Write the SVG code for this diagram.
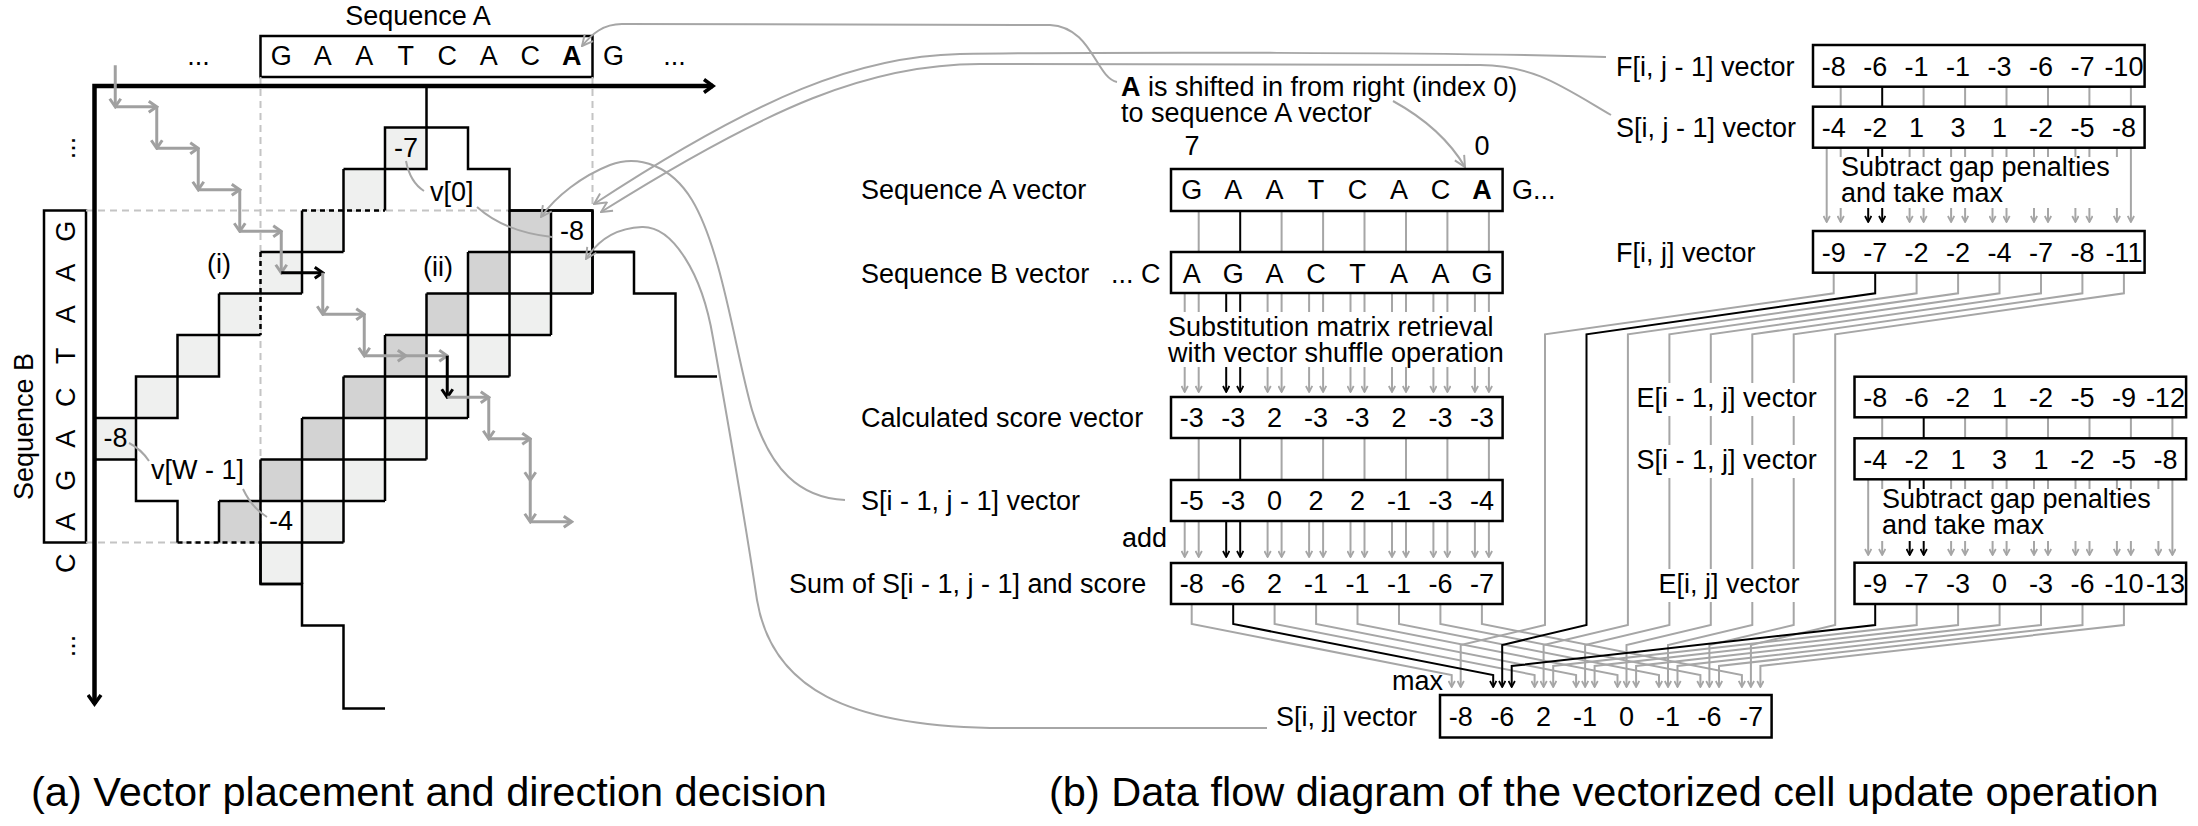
<svg xmlns="http://www.w3.org/2000/svg" width="2198" height="826" viewBox="0 0 2198 826">
<defs>
<marker id="ax" viewBox="0 0 14 16" refX="11" refY="8" markerWidth="14" markerHeight="16" markerUnits="userSpaceOnUse" orient="auto-start-reverse"><path d="M2,1.5 L11,8 L2,14.5" fill="none" stroke="#000" stroke-width="3.5"/></marker>
<marker id="mg" viewBox="0 0 12 14" refX="10" refY="7" markerWidth="12" markerHeight="14" markerUnits="userSpaceOnUse" orient="auto"><path d="M2,1.5 L10,7 L2,12.5" fill="none" stroke="#a0a0a0" stroke-width="3"/></marker>
<marker id="mk" viewBox="0 0 12 14" refX="10" refY="7" markerWidth="12" markerHeight="14" markerUnits="userSpaceOnUse" orient="auto"><path d="M2,1.5 L10,7 L2,12.5" fill="none" stroke="#000" stroke-width="3"/></marker>
<marker id="sg" viewBox="0 0 8 8" refX="7" refY="4" markerWidth="8" markerHeight="8" markerUnits="userSpaceOnUse" orient="auto"><path d="M1,0.8 L7,4 L1,7.2" fill="none" stroke="#a6a6a6" stroke-width="1.8"/></marker>
<marker id="sk" viewBox="0 0 8 8" refX="7" refY="4" markerWidth="8" markerHeight="8" markerUnits="userSpaceOnUse" orient="auto"><path d="M1,0.8 L7,4 L1,7.2" fill="none" stroke="#000" stroke-width="1.8"/></marker>
<marker id="cg" viewBox="0 0 12 12" refX="11" refY="6" markerWidth="13" markerHeight="13" markerUnits="userSpaceOnUse" orient="auto"><path d="M1,1 L11,6 L1,11" fill="none" stroke="#a6a6a6" stroke-width="1.8"/></marker>
</defs>
<style>
text{font-family:"Liberation Sans",Arial,Helvetica,sans-serif;font-size:27px;fill:#000}
.c{text-anchor:middle}
.e{text-anchor:end}
.cap{font-size:41.5px}
.box{fill:#fff;stroke:#000;stroke-width:2.5}
.g{stroke:#a6a6a6;stroke-width:2;fill:none}
.k{stroke:#000;stroke-width:2;fill:none}
.ga{stroke:#a6a6a6;stroke-width:2;fill:none;marker-end:url(#sg)}
.ka{stroke:#000;stroke-width:2;fill:none;marker-end:url(#sk)}
.dash{stroke:#c4c4c4;stroke-width:2;stroke-dasharray:7 5;fill:none}
.bdash{stroke:#000;stroke-width:2.5;stroke-dasharray:5 4;fill:none}
.lt{fill:#eff0ef}
.dk{fill:#d3d3d3}
.grid{stroke:#000;stroke-width:2.5;fill:none}
.pg{stroke:#a0a0a0;stroke-width:3;fill:none;marker-end:url(#mg)}
.pk{stroke:#000;stroke-width:3;fill:none;marker-end:url(#mk)}
.cv{stroke:#a6a6a6;stroke-width:2;fill:none;marker-end:url(#cg)}
.cvn{stroke:#a6a6a6;stroke-width:2;fill:none}
.halo{fill:#fff}
</style>
<rect width="2198" height="826" fill="#fff"/>

<!-- ===== (a) ===== -->
<g id="seqA">
<text class="c" x="418" y="25">Sequence A</text>
<rect class="box" x="260.5" y="36" width="332" height="41"/>
<text y="65"><tspan class="c" x="198.5">...</tspan><tspan class="c" x="281.25">G</tspan><tspan class="c" x="322.75">A</tspan><tspan class="c" x="364.25">A</tspan><tspan class="c" x="405.75">T</tspan><tspan class="c" x="447.25">C</tspan><tspan class="c" x="488.75">A</tspan><tspan class="c" x="530.25">C</tspan><tspan class="c" x="571.75" font-weight="bold">A</tspan><tspan class="c" x="613.5">G</tspan><tspan class="c" x="674.5">...</tspan></text>
</g>
<g id="seqB">
<text class="c" transform="translate(33,426.5) rotate(-90)">Sequence B</text>
<rect class="box" x="44" y="210.5" width="42" height="332"/>
<text class="c" transform="translate(75,148) rotate(-90)">...</text>
<text class="c" transform="translate(75,231.25) rotate(-90)">G</text>
<text class="c" transform="translate(75,272.75) rotate(-90)">A</text>
<text class="c" transform="translate(75,314.25) rotate(-90)">A</text>
<text class="c" transform="translate(75,355.75) rotate(-90)">T</text>
<text class="c" transform="translate(75,397.25) rotate(-90)">C</text>
<text class="c" transform="translate(75,438.75) rotate(-90)">A</text>
<text class="c" transform="translate(75,480.25) rotate(-90)">G</text>
<text class="c" transform="translate(75,521.75) rotate(-90)">A</text>
<text class="c" transform="translate(75,563.25) rotate(-90)">C</text>
<text class="c" transform="translate(75,646) rotate(-90)">...</text>
</g>
<g id="grid">
<path class="dash" d="M260.5 77V542.5 M592.5 77V210.5 M86 210.5H592.5 M86 542.5H260.5"/>
<g id="cells-light-i" class="lt">
<rect x="385" y="127.5" width="41.5" height="41.5"/><rect x="343.5" y="169" width="41.5" height="41.5"/><rect x="302" y="210.5" width="41.5" height="41.5"/><rect x="260.5" y="252" width="41.5" height="41.5"/><rect x="219" y="293.5" width="41.5" height="41.5"/><rect x="177.5" y="335" width="41.5" height="41.5"/><rect x="136" y="376.5" width="41.5" height="41.5"/><rect x="94.5" y="418" width="41.5" height="41.5"/>
</g>
<g id="cells-dark" class="dk">
<rect x="509.5" y="210.5" width="41.5" height="41.5"/><rect x="468" y="252" width="41.5" height="41.5"/><rect x="426.5" y="293.5" width="41.5" height="41.5"/><rect x="385" y="335" width="41.5" height="41.5"/><rect x="343.5" y="376.5" width="41.5" height="41.5"/><rect x="302" y="418" width="41.5" height="41.5"/><rect x="260.5" y="459.5" width="41.5" height="41.5"/><rect x="219" y="501" width="41.5" height="41.5"/>
</g>
<g id="cells-light-ii" class="lt">
<rect x="551" y="252" width="41.5" height="41.5"/><rect x="509.5" y="293.5" width="41.5" height="41.5"/><rect x="468" y="335" width="41.5" height="41.5"/><rect x="426.5" y="376.5" width="41.5" height="41.5"/><rect x="385" y="418" width="41.5" height="41.5"/><rect x="343.5" y="459.5" width="41.5" height="41.5"/><rect x="302" y="501" width="41.5" height="41.5"/><rect x="260.5" y="542.5" width="41.5" height="41.5"/>
</g>
<path class="grid" d="M385 127.5H426.5V169H385Z M343.5 169H385 M343.5 169V210.5 M385 169V210.5 M302 210.5V252 M343.5 210.5V252 M302 252H343.5 M260.5 252H302 M302 252V293.5 M260.5 293.5H302 M219 293.5H260.5 M219 293.5V335 M219 335H260.5 M177.5 335H219V376.5H177.5Z M136 376.5H177.5V418H136Z M94.5 418H136V459.5H94.5"/>
<path class="grid" d="M426.5 86V127.5 M426.5 127.5H468V169H509.5V210.5H592.5V293.5 M592.5 252H634V293.5H675.5V376.5H717 M136 459.5V501H177.5V542.5 M260.5 542.5V584H302V625.5H343.5V708.5H385"/>
<path class="grid" d="M509.5 210.5H592.5 M468 252H634 M426.5 293.5H592.5 M385 335H551 M343.5 376.5H509.5 M302 418H468 M260.5 459.5H426.5 M219 501H385 M260.5 542.5H343.5 M260.5 584H302 M592.5 210.5V293.5 M551 210.5V335 M509.5 210.5V376.5 M468 252V418 M426.5 293.5V459.5 M385 335V501 M343.5 376.5V542.5 M302 418V584 M260.5 459.5V584 M219 501V542.5"/>
<path class="bdash" d="M302 210.5H385 M260.5 252V335 M177.5 542.5H260.5"/>
</g>
<g id="axes">
<path d="M94.5 704 V86 H713" fill="none" stroke="#000" stroke-width="4.5" marker-start="url(#ax)" marker-end="url(#ax)"/>
</g>
<g id="direction-path">
<line class="pg" x1="115.25" y1="65.25" x2="115.25" y2="106.75"/>
<line class="pg" x1="115.25" y1="106.75" x2="156.75" y2="106.75"/>
<line class="pg" x1="156.75" y1="106.75" x2="156.75" y2="148.25"/>
<line class="pg" x1="156.75" y1="148.25" x2="198.25" y2="148.25"/>
<line class="pg" x1="198.25" y1="148.25" x2="198.25" y2="189.75"/>
<line class="pg" x1="198.25" y1="189.75" x2="239.75" y2="189.75"/>
<line class="pg" x1="239.75" y1="189.75" x2="239.75" y2="231.25"/>
<line class="pg" x1="239.75" y1="231.25" x2="281.25" y2="231.25"/>
<line class="pg" x1="281.25" y1="231.25" x2="281.25" y2="272.75"/>
<line class="pk" x1="281.25" y1="272.75" x2="322.75" y2="272.75"/>
<line class="pg" x1="322.75" y1="272.75" x2="322.75" y2="314.25"/>
<line class="pg" x1="322.75" y1="314.25" x2="364.25" y2="314.25"/>
<line class="pg" x1="364.25" y1="314.25" x2="364.25" y2="355.75"/>
<line class="pg" x1="364.25" y1="355.75" x2="405.75" y2="355.75"/>
<line class="pg" x1="405.75" y1="355.75" x2="447.25" y2="355.75"/>
<line class="pk" x1="447.25" y1="355.75" x2="447.25" y2="397.25"/>
<line class="pg" x1="447.25" y1="397.25" x2="488.75" y2="397.25"/>
<line class="pg" x1="488.75" y1="397.25" x2="488.75" y2="438.75"/>
<line class="pg" x1="488.75" y1="438.75" x2="530.25" y2="438.75"/>
<line class="pg" x1="530.25" y1="438.75" x2="530.25" y2="480.25"/>
<line class="pg" x1="530.25" y1="480.25" x2="530.25" y2="521.75"/>
<line class="pg" x1="530.25" y1="521.75" x2="571.75" y2="521.75"/>
</g>
<g id="labels-a">
<text class="c" x="406" y="157">-7</text>
<text class="c" x="572" y="240">-8</text>
<text class="c" x="115.5" y="447">-8</text>
<text class="c" x="281" y="530">-4</text>
<text x="430" y="201">v[0]</text>
<text x="151" y="479">v[W - 1]</text>
<text class="c" x="219" y="273">(i)</text>
<text class="c" x="438" y="276">(ii)</text>
<path class="cvn" d="M406 161 Q410 182 424 191 M477 207 Q505 232 552 237 M129 443 Q141 449 149 461 M243 489 Q252 508 267 517"/>
</g>

<!-- ===== connectors ===== -->
<g id="connectors">
<path class="cv" d="M1117 82 C1096 78 1092 27 1050 25 L622 24 C603 24 592 34 582 46"/>
<path class="cv" d="M1393 101 Q1442 128 1465 167"/>
<path class="cv" d="M1606 57 C1450 52 1100 52 960 54 C860 56 760 95 594 204"/>
<path class="cv" d="M1611 115 C1560 85 1535 66 1480 65 L980 64 C870 64 770 106 601 212"/>
<path class="cv" d="M845 500 C800 498 770 470 752 410 C735 350 722 250 692 200 C672 167 640 154 610 165 C582 176 556 196 541 217"/>
<path class="cv" d="M1267 728 L990 728 C850 725 772 690 757 600 C742 500 724 400 713 338 C702 272 672 226 642 227 C616 228 598 240 586 259"/>

<!-- seqA -> seqB -->
<path class="g" d="M1198.7 211V252 M1281.6 211V252 M1323.1 211V252 M1364.5 211V252 M1406 211V252 M1447.4 211V252 M1488.9 211V252"/>
<path class="k" d="M1240.2 211V252"/>
<path class="g" d="M1184.7 293V312 M1198.7 293V312 M1267.6 293V312 M1281.6 293V312 M1309.1 293V312 M1323.1 293V312 M1350.5 293V312 M1364.5 293V312 M1392 293V312 M1406 293V312 M1433.4 293V312 M1447.4 293V312 M1474.9 293V312 M1488.9 293V312"/>
<path class="k" d="M1226.2 293V312 M1240.2 293V312"/>
<g id="sub-arrows">
<line class="ga" x1="1184.7" y1="367" x2="1184.7" y2="392"/><line class="ga" x1="1198.7" y1="367" x2="1198.7" y2="392"/>
<line class="ka" x1="1226.2" y1="367" x2="1226.2" y2="392"/><line class="ka" x1="1240.2" y1="367" x2="1240.2" y2="392"/>
<line class="ga" x1="1267.6" y1="367" x2="1267.6" y2="392"/><line class="ga" x1="1281.6" y1="367" x2="1281.6" y2="392"/>
<line class="ga" x1="1309.1" y1="367" x2="1309.1" y2="392"/><line class="ga" x1="1323.1" y1="367" x2="1323.1" y2="392"/>
<line class="ga" x1="1350.5" y1="367" x2="1350.5" y2="392"/><line class="ga" x1="1364.5" y1="367" x2="1364.5" y2="392"/>
<line class="ga" x1="1392" y1="367" x2="1392" y2="392"/><line class="ga" x1="1406" y1="367" x2="1406" y2="392"/>
<line class="ga" x1="1433.4" y1="367" x2="1433.4" y2="392"/><line class="ga" x1="1447.4" y1="367" x2="1447.4" y2="392"/>
<line class="ga" x1="1474.9" y1="367" x2="1474.9" y2="392"/><line class="ga" x1="1488.9" y1="367" x2="1488.9" y2="392"/>
</g>
<path class="g" d="M1198.7 438V480 M1281.6 438V480 M1323.1 438V480 M1364.5 438V480 M1406 438V480 M1447.4 438V480 M1488.9 438V480"/>
<path class="k" d="M1240.2 438V480"/>
<g id="add-arrows">
<line class="ga" x1="1184.7" y1="521" x2="1184.7" y2="557"/><line class="ga" x1="1198.7" y1="521" x2="1198.7" y2="557"/>
<line class="ka" x1="1226.2" y1="521" x2="1226.2" y2="557"/><line class="ka" x1="1240.2" y1="521" x2="1240.2" y2="557"/>
<line class="ga" x1="1267.6" y1="521" x2="1267.6" y2="557"/><line class="ga" x1="1281.6" y1="521" x2="1281.6" y2="557"/>
<line class="ga" x1="1309.1" y1="521" x2="1309.1" y2="557"/><line class="ga" x1="1323.1" y1="521" x2="1323.1" y2="557"/>
<line class="ga" x1="1350.5" y1="521" x2="1350.5" y2="557"/><line class="ga" x1="1364.5" y1="521" x2="1364.5" y2="557"/>
<line class="ga" x1="1392" y1="521" x2="1392" y2="557"/><line class="ga" x1="1406" y1="521" x2="1406" y2="557"/>
<line class="ga" x1="1433.4" y1="521" x2="1433.4" y2="557"/><line class="ga" x1="1447.4" y1="521" x2="1447.4" y2="557"/>
<line class="ga" x1="1474.9" y1="521" x2="1474.9" y2="557"/><line class="ga" x1="1488.9" y1="521" x2="1488.9" y2="557"/>
</g>
<!-- F column -->
<path class="g" d="M1840.7 86.7V106.7 M1923.6 86.7V106.7 M1965.1 86.7V106.7 M2006.5 86.7V106.7 M2048 86.7V106.7 M2089.4 86.7V106.7 M2130.9 86.7V106.7"/>
<path class="k" d="M1882.2 86.7V106.7"/>
<path class="g" d="M1840.7 147.7V157 M1909.6 147.7V157 M1923.6 147.7V157 M1951.1 147.7V157 M1965.1 147.7V157 M1992.5 147.7V157 M2006.5 147.7V157 M2034 147.7V157 M2048 147.7V157 M2075.4 147.7V157 M2089.4 147.7V157 M2116.9 147.7V157"/>
<path class="k" d="M1868.2 147.7V157 M1882.2 147.7V157"/>
<g id="f-arrows">
<line class="ga" x1="1826.7" y1="147.7" x2="1826.7" y2="222"/><line class="ga" x1="2130.9" y1="147.7" x2="2130.9" y2="222"/>
<line class="ga" x1="1840.7" y1="208" x2="1840.7" y2="222"/>
<line class="ka" x1="1868.2" y1="208" x2="1868.2" y2="222"/><line class="ka" x1="1882.2" y1="208" x2="1882.2" y2="222"/>
<line class="ga" x1="1909.6" y1="208" x2="1909.6" y2="222"/><line class="ga" x1="1923.6" y1="208" x2="1923.6" y2="222"/>
<line class="ga" x1="1951.1" y1="208" x2="1951.1" y2="222"/><line class="ga" x1="1965.1" y1="208" x2="1965.1" y2="222"/>
<line class="ga" x1="1992.5" y1="208" x2="1992.5" y2="222"/><line class="ga" x1="2006.5" y1="208" x2="2006.5" y2="222"/>
<line class="ga" x1="2034" y1="208" x2="2034" y2="222"/><line class="ga" x1="2048" y1="208" x2="2048" y2="222"/>
<line class="ga" x1="2075.4" y1="208" x2="2075.4" y2="222"/><line class="ga" x1="2089.4" y1="208" x2="2089.4" y2="222"/>
<line class="ga" x1="2116.9" y1="208" x2="2116.9" y2="222"/>
</g>
<!-- E column -->
<path class="g" d="M1882.2 417.3V438.3 M1965.1 417.3V438.3 M2006.6 417.3V438.3 M2048 417.3V438.3 M2089.5 417.3V438.3 M2130.9 417.3V438.3 M2172.4 417.3V438.3"/>
<path class="k" d="M1923.7 417.3V438.3"/>
<path class="g" d="M1882.2 479.3V489 M1951.1 479.3V489 M1965.1 479.3V489 M1992.6 479.3V489 M2006.6 479.3V489 M2034 479.3V489 M2048 479.3V489 M2075.5 479.3V489 M2089.5 479.3V489 M2116.9 479.3V489 M2130.9 479.3V489 M2158.4 479.3V489"/>
<path class="k" d="M1909.7 479.3V489 M1923.7 479.3V489"/>
<g id="e-arrows">
<line class="ga" x1="1868.2" y1="479.3" x2="1868.2" y2="555"/><line class="ga" x1="2172.4" y1="479.3" x2="2172.4" y2="555"/>
<line class="ga" x1="1882.2" y1="541" x2="1882.2" y2="555"/>
<line class="ka" x1="1909.7" y1="541" x2="1909.7" y2="555"/><line class="ka" x1="1923.7" y1="541" x2="1923.7" y2="555"/>
<line class="ga" x1="1951.1" y1="541" x2="1951.1" y2="555"/><line class="ga" x1="1965.1" y1="541" x2="1965.1" y2="555"/>
<line class="ga" x1="1992.6" y1="541" x2="1992.6" y2="555"/><line class="ga" x1="2006.6" y1="541" x2="2006.6" y2="555"/>
<line class="ga" x1="2034" y1="541" x2="2034" y2="555"/><line class="ga" x1="2048" y1="541" x2="2048" y2="555"/>
<line class="ga" x1="2075.5" y1="541" x2="2075.5" y2="555"/><line class="ga" x1="2089.5" y1="541" x2="2089.5" y2="555"/>
<line class="ga" x1="2116.9" y1="541" x2="2116.9" y2="555"/><line class="ga" x1="2130.9" y1="541" x2="2130.9" y2="555"/>
<line class="ga" x1="2158.4" y1="541" x2="2158.4" y2="555"/>
</g>
<!-- max merge: F lines -->
<path class="ga" d="M1833.7 272.7V293.3L1545 334.3V625L1460.7 645V687"/>
<path class="ga" d="M1916.6 272.7V293.3L1627.9 334.3V625L1543.6 645V687"/>
<path class="ga" d="M1958.1 272.7V293.3L1669.4 334.3V625L1585.1 645V687"/>
<path class="ga" d="M1999.5 272.7V293.3L1710.8 334.3V625L1626.5 645V687"/>
<path class="ga" d="M2041 272.7V293.3L1752.3 334.3V625L1668 645V687"/>
<path class="ga" d="M2082.4 272.7V293.3L1793.7 334.3V625L1709.4 645V687"/>
<path class="ga" d="M2123.9 272.7V293.3L1835.2 334.3V625L1750.9 645V687"/>
<!-- Sum lines -->
<path class="ga" d="M1191.7 604V624L1451.7 675V687"/>
<path class="ga" d="M1274.6 604V624L1534.6 675V687"/>
<path class="ga" d="M1316.1 604V624L1576.1 675V687"/>
<path class="ga" d="M1357.5 604V624L1617.5 675V687"/>
<path class="ga" d="M1399 604V624L1659 675V687"/>
<path class="ga" d="M1440.4 604V624L1700.4 675V687"/>
<path class="ga" d="M1481.9 604V624L1741.9 675V687"/>
<!-- E lines -->
<path class="ga" d="M1916.7 604V625L1553.2 666V687"/>
<path class="ga" d="M1958.1 604V625L1594.6 666V687"/>
<path class="ga" d="M1999.6 604V625L1636.1 666V687"/>
<path class="ga" d="M2041 604V625L1677.5 666V687"/>
<path class="ga" d="M2082.5 604V625L1719 666V687"/>
<path class="ga" d="M2123.9 604V625L1760.4 666V687"/>
<!-- black path -->
<path class="ka" d="M1233.2 604V624L1493.2 675V687"/>
<path class="ka" d="M1875.2 272.7V293.3L1586.5 334.3V625L1502.2 645V687"/>
<path class="ka" d="M1875.2 604V625L1511.7 666V687"/>
</g>

<!-- ===== (b) nodes ===== -->
<g id="seqA-vector">
<text x="861" y="199">Sequence A vector</text>
<text class="c" x="1192" y="155">7</text>
<text class="c" x="1481.9" y="155">0</text>
<rect class="box" x="1171" y="169" width="331.6" height="42"/>
<text y="199"><tspan class="c" x="1191.7">G</tspan><tspan class="c" x="1233.2">A</tspan><tspan class="c" x="1274.6">A</tspan><tspan class="c" x="1316.1">T</tspan><tspan class="c" x="1357.5">C</tspan><tspan class="c" x="1399">A</tspan><tspan class="c" x="1440.4">C</tspan><tspan class="c" x="1481.9" font-weight="bold">A</tspan></text>
<text x="1512" y="199">G...</text>
</g>
<g id="shift-note">
<text x="1121" y="96"><tspan font-weight="bold">A</tspan> is shifted in from right (index 0)</text>
<text x="1121" y="122">to sequence A vector</text>
</g>
<g id="seqB-vector">
<text x="861" y="283">Sequence B vector</text>
<text x="1111" y="283">... C</text>
<rect class="box" x="1171" y="252" width="331.6" height="41"/>
<text y="283"><tspan class="c" x="1191.7">A</tspan><tspan class="c" x="1233.2">G</tspan><tspan class="c" x="1274.6">A</tspan><tspan class="c" x="1316.1">C</tspan><tspan class="c" x="1357.5">T</tspan><tspan class="c" x="1399">A</tspan><tspan class="c" x="1440.4">A</tspan><tspan class="c" x="1481.9">G</tspan></text>
</g>
<g id="substitution-note">
<text x="1168" y="336">Substitution matrix retrieval</text>
<text x="1168" y="362">with vector shuffle operation</text>
</g>
<g id="score-vector">
<text x="861" y="427">Calculated score vector</text>
<rect class="box" x="1171" y="397" width="331.6" height="41"/>
<text y="427"><tspan class="c" x="1191.7">-3</tspan><tspan class="c" x="1233.2">-3</tspan><tspan class="c" x="1274.6">2</tspan><tspan class="c" x="1316.1">-3</tspan><tspan class="c" x="1357.5">-3</tspan><tspan class="c" x="1399">2</tspan><tspan class="c" x="1440.4">-3</tspan><tspan class="c" x="1481.9">-3</tspan></text>
</g>
<g id="S-i1-j1">
<text x="861" y="510">S[i - 1, j - 1] vector</text>
<rect class="box" x="1171" y="480" width="331.6" height="41"/>
<text y="510"><tspan class="c" x="1191.7">-5</tspan><tspan class="c" x="1233.2">-3</tspan><tspan class="c" x="1274.6">0</tspan><tspan class="c" x="1316.1">2</tspan><tspan class="c" x="1357.5">2</tspan><tspan class="c" x="1399">-1</tspan><tspan class="c" x="1440.4">-3</tspan><tspan class="c" x="1481.9">-4</tspan></text>
<text x="1122" y="547">add</text>
</g>
<g id="sum-vector">
<text x="789" y="593">Sum of S[i - 1, j - 1] and score</text>
<rect class="box" x="1171" y="563" width="331.6" height="41"/>
<text y="593"><tspan class="c" x="1191.7">-8</tspan><tspan class="c" x="1233.2">-6</tspan><tspan class="c" x="1274.6">2</tspan><tspan class="c" x="1316.1">-1</tspan><tspan class="c" x="1357.5">-1</tspan><tspan class="c" x="1399">-1</tspan><tspan class="c" x="1440.4">-6</tspan><tspan class="c" x="1481.9">-7</tspan></text>
</g>
<g id="S-ij">
<text class="e" x="1443" y="690">max</text>
<text x="1276" y="726">S[i, j] vector</text>
<rect class="box" x="1440" y="695" width="331.6" height="42.5"/>
<text y="726"><tspan class="c" x="1460.7">-8</tspan><tspan class="c" x="1502.2">-6</tspan><tspan class="c" x="1543.6">2</tspan><tspan class="c" x="1585.1">-1</tspan><tspan class="c" x="1626.5">0</tspan><tspan class="c" x="1668">-1</tspan><tspan class="c" x="1709.4">-6</tspan><tspan class="c" x="1750.9">-7</tspan></text>
</g>
<g id="F-i-j1">
<text x="1616" y="76">F[i, j - 1] vector</text>
<rect class="box" x="1813" y="45" width="331.6" height="41.7"/>
<text y="76"><tspan class="c" x="1833.7">-8</tspan><tspan class="c" x="1875.2">-6</tspan><tspan class="c" x="1916.6">-1</tspan><tspan class="c" x="1958.1">-1</tspan><tspan class="c" x="1999.5">-3</tspan><tspan class="c" x="2041">-6</tspan><tspan class="c" x="2082.4">-7</tspan><tspan class="c" x="2123.9">-10</tspan></text>
</g>
<g id="S-i-j1">
<text x="1616" y="137">S[i, j - 1] vector</text>
<rect class="box" x="1813" y="106.7" width="331.6" height="41"/>
<text y="137"><tspan class="c" x="1833.7">-4</tspan><tspan class="c" x="1875.2">-2</tspan><tspan class="c" x="1916.6">1</tspan><tspan class="c" x="1958.1">3</tspan><tspan class="c" x="1999.5">1</tspan><tspan class="c" x="2041">-2</tspan><tspan class="c" x="2082.4">-5</tspan><tspan class="c" x="2123.9">-8</tspan></text>
<text x="1841" y="176">Subtract gap penalties</text>
<text x="1841" y="202">and take max</text>
</g>
<g id="F-ij">
<text x="1616" y="262">F[i, j] vector</text>
<rect class="box" x="1813" y="231" width="331.6" height="41.7"/>
<text y="262"><tspan class="c" x="1833.7">-9</tspan><tspan class="c" x="1875.2">-7</tspan><tspan class="c" x="1916.6">-2</tspan><tspan class="c" x="1958.1">-2</tspan><tspan class="c" x="1999.5">-4</tspan><tspan class="c" x="2041">-7</tspan><tspan class="c" x="2082.4">-8</tspan><tspan class="c" x="2123.9">-11</tspan></text>
</g>
<g id="E-i1-j">
<rect class="halo" x="1631" y="383" width="191" height="33"/>
<text x="1636.6" y="407">E[i - 1, j] vector</text>
<rect class="box" x="1854.5" y="376.7" width="331.6" height="40.6"/>
<text y="407"><tspan class="c" x="1875.2">-8</tspan><tspan class="c" x="1916.7">-6</tspan><tspan class="c" x="1958.1">-2</tspan><tspan class="c" x="1999.6">1</tspan><tspan class="c" x="2041">-2</tspan><tspan class="c" x="2082.5">-5</tspan><tspan class="c" x="2123.9">-9</tspan><tspan class="c" x="2165.4">-12</tspan></text>
</g>
<g id="S-i1-j">
<rect class="halo" x="1631" y="445" width="191" height="33"/>
<text x="1636.6" y="469">S[i - 1, j] vector</text>
<rect class="box" x="1854.5" y="438.3" width="331.6" height="41"/>
<text y="469"><tspan class="c" x="1875.2">-4</tspan><tspan class="c" x="1916.7">-2</tspan><tspan class="c" x="1958.1">1</tspan><tspan class="c" x="1999.6">3</tspan><tspan class="c" x="2041">1</tspan><tspan class="c" x="2082.5">-2</tspan><tspan class="c" x="2123.9">-5</tspan><tspan class="c" x="2165.4">-8</tspan></text>
<text x="1882" y="508">Subtract gap penalties</text>
<text x="1882" y="534">and take max</text>
</g>
<g id="E-ij">
<rect class="halo" x="1653" y="569" width="152" height="33"/>
<text x="1658.5" y="593">E[i, j] vector</text>
<rect class="box" x="1854.5" y="562.7" width="331.6" height="41.3"/>
<text y="593"><tspan class="c" x="1875.2">-9</tspan><tspan class="c" x="1916.7">-7</tspan><tspan class="c" x="1958.1">-3</tspan><tspan class="c" x="1999.6">0</tspan><tspan class="c" x="2041">-3</tspan><tspan class="c" x="2082.5">-6</tspan><tspan class="c" x="2123.9">-10</tspan><tspan class="c" x="2165.4">-13</tspan></text>
</g>
<g id="captions">
<text class="cap" x="31" y="806">(a) Vector placement and direction decision</text>
<text class="cap" x="1049" y="806">(b) Data flow diagram of the vectorized cell update operation</text>
</g>
</svg>
